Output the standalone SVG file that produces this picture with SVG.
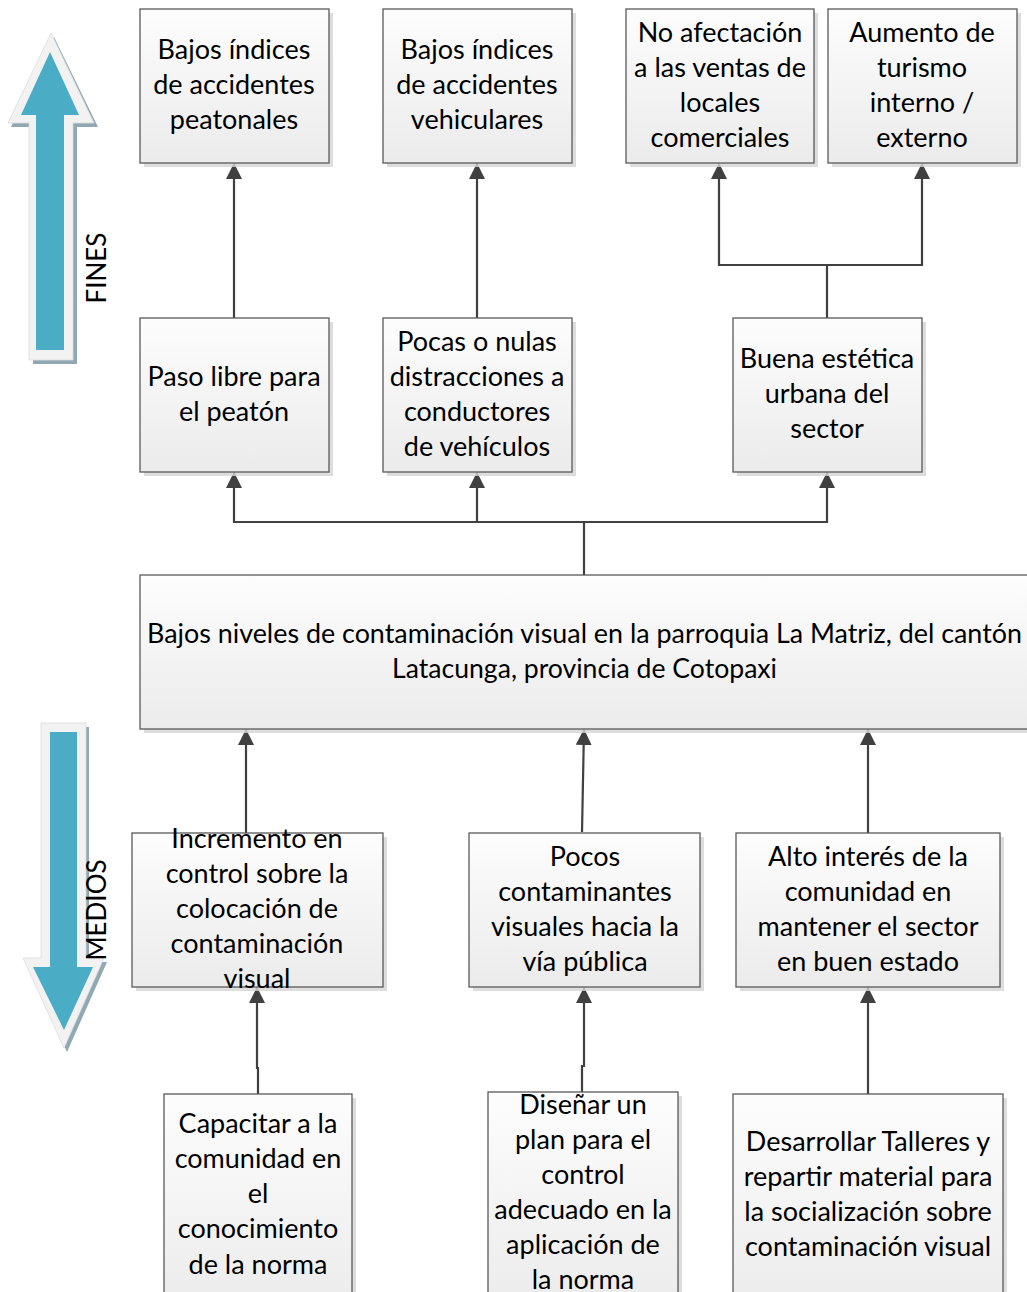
<svg xmlns="http://www.w3.org/2000/svg" width="1027" height="1292" viewBox="0 0 1027 1292">
<defs>
<linearGradient id="g" x1="0" y1="0" x2="0" y2="1">
<stop offset="0" stop-color="#fdfdfd"/>
<stop offset="1" stop-color="#ebebeb"/>
</linearGradient>
<marker id="ah" viewBox="0 0 16 16" refX="16" refY="8" markerWidth="16" markerHeight="16" markerUnits="userSpaceOnUse" orient="auto">
<path d="M0,0 L16,8 L0,16 Z" fill="#404040"/>
</marker>
</defs>
<style>
.sh{fill:#d4d4d4;opacity:0.8}
.bx{fill:url(#g);stroke:#595959;stroke-width:1.3}
.t{font-family:Lato,"Liberation Sans",sans-serif;font-size:27px;fill:#000;text-anchor:middle}
.c{fill:none;stroke:#404040;stroke-width:2.2}
.ca{fill:none;stroke:#404040;stroke-width:2.2;marker-end:url(#ah)}
</style>
<rect width="1027" height="1292" fill="#fff"/>

<g id="arrow-fines">
<polygon points="54,37 98,127 77,127 77,364 33,364 33,127 11,127" fill="#8fa8b2"/>
<polygon points="51,33 94,123 73,123 73,360 29,360 29,123 8,123" fill="#f2f2f2" stroke="#dcdcdc" stroke-width="0.8"/>
<polygon points="50,52 79,115 64,115 64,350 36,350 36,115 21,115" fill="#4bacc6"/>
<text class="t" transform="translate(106,268) rotate(-90)" style="font-size:26px">FINES</text>
</g>
<g id="arrow-medios">
<polygon points="44,727 89,727 89,962 107,962 67,1052 26,962 44,962" fill="#8fa8b2"/>
<polygon points="41,723 86,723 86,958 104,958 64,1048 23,958 41,958" fill="#f2f2f2" stroke="#dcdcdc" stroke-width="0.8"/>
<polygon points="50,732 77,732 77,967 93,967 64,1030 33,967 50,967" fill="#4bacc6"/>
<text class="t" transform="translate(106,910) rotate(-90)" style="font-size:26px">MEDIOS</text>
</g>

<g id="connectors">
<line class="ca" x1="234" y1="318" x2="234" y2="163"/>
<line class="ca" x1="477" y1="318" x2="477" y2="163"/>
<polyline class="c" points="827,318 827,265"/>
<polyline class="ca" points="827,265 719,265 719,163"/>
<polyline class="ca" points="827,265 922,265 922,163"/>
<line class="c" x1="584" y1="575" x2="584" y2="522"/>
<polyline class="ca" points="584,522 234,522 234,472"/>
<line class="ca" x1="477" y1="522" x2="477" y2="472"/>
<polyline class="ca" points="584,522 827,522 827,472"/>
<line class="ca" x1="246" y1="833" x2="246" y2="729"/>
<line class="ca" x1="582" y1="832" x2="584" y2="729"/>
<line class="ca" x1="868" y1="833" x2="868" y2="729"/>
<polyline class="ca" points="258,1094 258,1068 257,1068 257,987"/>
<polyline class="ca" points="582,1092 582,1066 584,1066 584,987"/>
<line class="ca" x1="868" y1="1094" x2="868" y2="987"/>
</g>

<g id="b1">
<rect class="sh" x="144" y="13" width="189" height="154"/>
<rect class="bx" x="140" y="9" width="189" height="154"/>
<text class="t" x="234" y="59">Bajos índices</text>
<text class="t" x="234" y="94">de accidentes</text>
<text class="t" x="234" y="129">peatonales</text>
</g>
<g id="b2">
<rect class="sh" x="387" y="13" width="189" height="154"/>
<rect class="bx" x="383" y="9" width="189" height="154"/>
<text class="t" x="477" y="59">Bajos índices</text>
<text class="t" x="477" y="94">de accidentes</text>
<text class="t" x="477" y="129">vehiculares</text>
</g>
<g id="b3">
<rect class="sh" x="630" y="13" width="188" height="154"/>
<rect class="bx" x="626" y="9" width="188" height="154"/>
<text class="t" x="720" y="42">No afectación</text>
<text class="t" x="720" y="77">a las ventas de</text>
<text class="t" x="720" y="112">locales</text>
<text class="t" x="720" y="147">comerciales</text>
</g>
<g id="b4">
<rect class="sh" x="832" y="13" width="189" height="154"/>
<rect class="bx" x="828" y="9" width="189" height="154"/>
<text class="t" x="922" y="42">Aumento de</text>
<text class="t" x="922" y="77">turismo</text>
<text class="t" x="922" y="112">interno /</text>
<text class="t" x="922" y="147">externo</text>
</g>

<g id="c1">
<rect class="sh" x="144" y="322" width="189" height="154"/>
<rect class="bx" x="140" y="318" width="189" height="154"/>
<text class="t" x="234" y="386">Paso libre para</text>
<text class="t" x="234" y="421">el peatón</text>
</g>
<g id="c2">
<rect class="sh" x="387" y="322" width="189" height="154"/>
<rect class="bx" x="383" y="318" width="189" height="154"/>
<text class="t" x="477" y="351">Pocas o nulas</text>
<text class="t" x="477" y="386">distracciones a</text>
<text class="t" x="477" y="421">conductores</text>
<text class="t" x="477" y="456">de vehículos</text>
</g>
<g id="c3">
<rect class="sh" x="737" y="322" width="189" height="154"/>
<rect class="bx" x="733" y="318" width="189" height="154"/>
<text class="t" x="827" y="368">Buena estética</text>
<text class="t" x="827" y="403">urbana del</text>
<text class="t" x="827" y="438">sector</text>
</g>

<g id="main">
<rect class="sh" x="144" y="579" width="890" height="154"/>
<rect class="bx" x="140" y="575" width="890" height="154"/>
<text class="t" x="584.5" y="643" textLength="875" lengthAdjust="spacingAndGlyphs">Bajos niveles de contaminación visual en la parroquia La Matriz, del cantón</text>
<text class="t" x="584.5" y="678" textLength="385" lengthAdjust="spacingAndGlyphs">Latacunga, provincia de Cotopaxi</text>
</g>

<g id="d1">
<rect class="sh" x="136" y="837" width="251" height="154"/>
<rect class="bx" x="132" y="833" width="251" height="154"/>
<text class="t" x="257" y="848">Incremento en</text>
<text class="t" x="257" y="883">control sobre la</text>
<text class="t" x="257" y="918">colocación de</text>
<text class="t" x="257" y="953">contaminación</text>
<text class="t" x="257" y="988">visual</text>
</g>
<g id="d2">
<rect class="sh" x="473" y="837" width="231" height="154"/>
<rect class="bx" x="469" y="833" width="231" height="154"/>
<text class="t" x="585" y="866">Pocos</text>
<text class="t" x="585" y="901">contaminantes</text>
<text class="t" x="585" y="936">visuales hacia la</text>
<text class="t" x="585" y="971">vía pública</text>
</g>
<g id="d3">
<rect class="sh" x="740" y="837" width="264" height="154"/>
<rect class="bx" x="736" y="833" width="264" height="154"/>
<text class="t" x="868" y="866">Alto interés de la</text>
<text class="t" x="868" y="901">comunidad en</text>
<text class="t" x="868" y="936">mantener el sector</text>
<text class="t" x="868" y="971">en buen estado</text>
</g>

<g id="e1">
<rect class="sh" x="168" y="1098" width="188" height="220"/>
<rect class="bx" x="164" y="1094" width="188" height="220"/>
<text class="t" x="258" y="1133">Capacitar a la</text>
<text class="t" x="258" y="1168">comunidad en</text>
<text class="t" x="258" y="1203">el</text>
<text class="t" x="258" y="1238">conocimiento</text>
<text class="t" x="258" y="1274">de la norma</text>
</g>
<g id="e2">
<rect class="sh" x="492" y="1096" width="190" height="220"/>
<rect class="bx" x="488" y="1092" width="190" height="220"/>
<text class="t" x="583" y="1114">Diseñar un</text>
<text class="t" x="583" y="1149">plan para el</text>
<text class="t" x="583" y="1184">control</text>
<text class="t" x="583" y="1219">adecuado en la</text>
<text class="t" x="583" y="1254">aplicación de</text>
<text class="t" x="583" y="1289">la norma</text>
</g>
<g id="e3">
<rect class="sh" x="737" y="1098" width="270" height="220"/>
<rect class="bx" x="733" y="1094" width="270" height="220"/>
<text class="t" x="868" y="1151">Desarrollar Talleres y</text>
<text class="t" x="868" y="1186">repartir material para</text>
<text class="t" x="868" y="1221">la socialización sobre</text>
<text class="t" x="868" y="1256">contaminación visual</text>
</g>
</svg>
